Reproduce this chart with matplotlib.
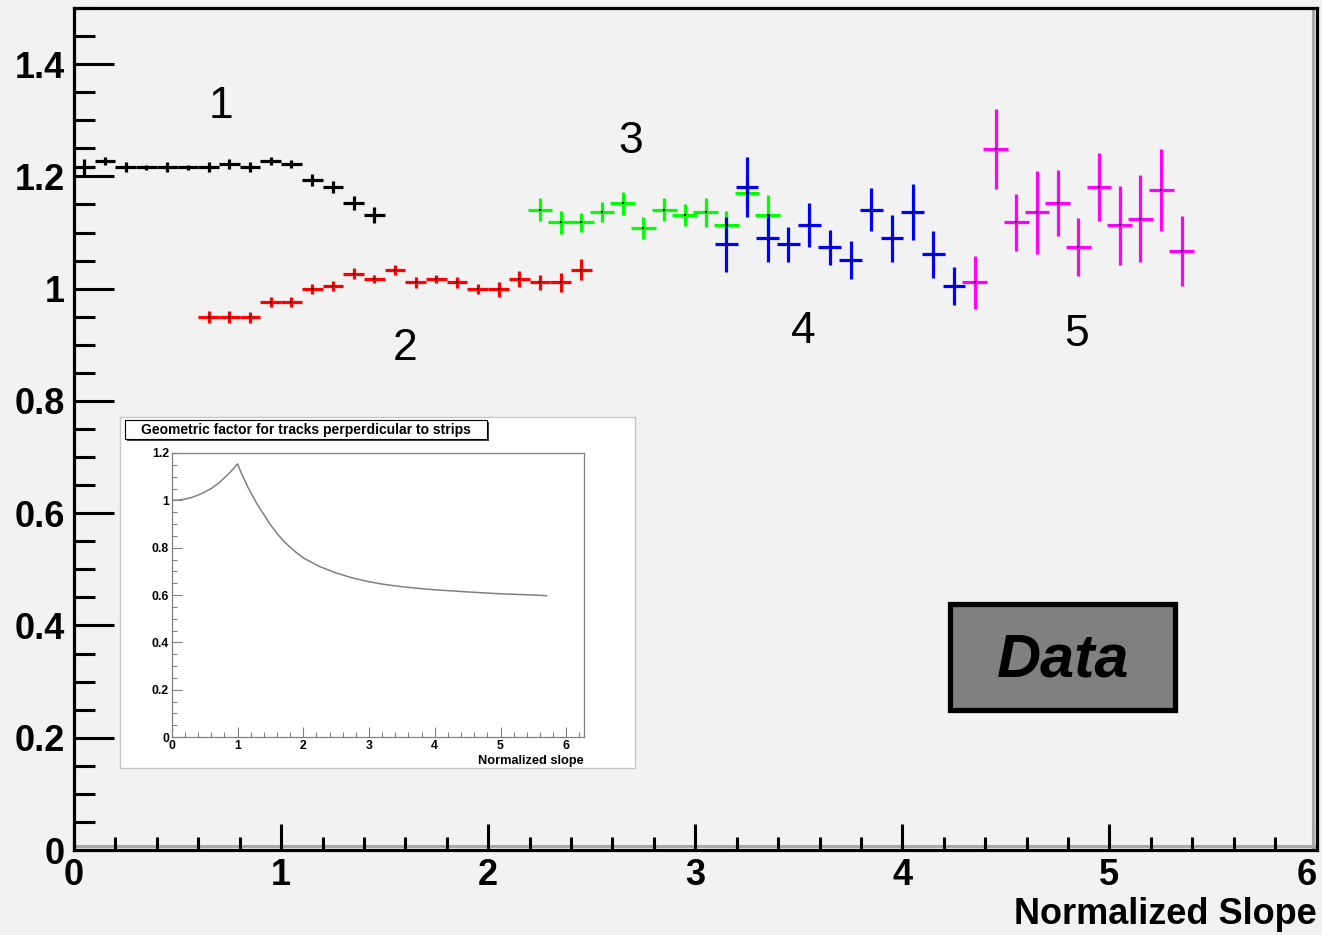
import numpy as np
import matplotlib.pyplot as plt
from matplotlib.patches import Rectangle
from matplotlib.lines import Line2D

plt.rcParams['font.family'] = ['Liberation Sans', 'DejaVu Sans']

# series 1 (black)
x1 = [0.05, 0.15, 0.25, 0.35, 0.45, 0.55, 0.65, 0.75, 0.85, 0.95, 1.05, 1.15, 1.25, 1.35, 1.45]
y1 = [1.216, 1.228, 1.216, 1.216, 1.216, 1.216, 1.216, 1.222, 1.216, 1.228, 1.222, 1.194, 1.181, 1.153, 1.131]
e1 = [0.015, 0.007, 0.009, 0.005, 0.009, 0.005, 0.009, 0.009, 0.009, 0.007, 0.007, 0.011, 0.011, 0.012, 0.014]
# series 2 (red)
x2 = [0.65, 0.75, 0.85, 0.95, 1.05, 1.15, 1.25, 1.35, 1.45, 1.55, 1.65, 1.75, 1.85, 1.95, 2.05, 2.15, 2.25, 2.35, 2.45]
y2 = [0.949, 0.949, 0.949, 0.977, 0.977, 0.999, 1.005, 1.027, 1.017, 1.034, 1.011, 1.017, 1.011, 0.999, 0.999, 1.017, 1.011, 1.011, 1.034]
e2 = [0.011, 0.011, 0.0095, 0.009, 0.009, 0.009, 0.009, 0.009, 0.007, 0.009, 0.009, 0.007, 0.009, 0.009, 0.013, 0.014, 0.013, 0.017, 0.019]
# series 3 (green)
x3 = [2.25, 2.35, 2.45, 2.55, 2.65, 2.75, 2.85, 2.95, 3.05, 3.15, 3.25, 3.35]
y3 = [1.141, 1.118, 1.118, 1.136, 1.152, 1.108, 1.141, 1.131, 1.136, 1.113, 1.170, 1.131]
e3 = [0.021, 0.020, 0.017, 0.018, 0.020, 0.020, 0.020, 0.019, 0.026, 0.026, 0.030, 0.036]
# series 4 (blue)
x4 = [3.15, 3.25, 3.35, 3.45, 3.55, 3.65, 3.75, 3.85, 3.95, 4.05, 4.15, 4.25]
y4 = [1.079, 1.181, 1.090, 1.079, 1.113, 1.074, 1.051, 1.141, 1.090, 1.136, 1.061, 1.005]
e4 = [0.049, 0.053, 0.043, 0.031, 0.039, 0.031, 0.034, 0.039, 0.042, 0.050, 0.042, 0.034]
# series 5 (magenta)
x5 = [4.35, 4.45, 4.55, 4.65, 4.75, 4.85, 4.95, 5.05, 5.15, 5.25, 5.35]
y5 = [1.011, 1.249, 1.118, 1.136, 1.152, 1.074, 1.181, 1.113, 1.125, 1.175, 1.067]
e5 = [0.048, 0.071, 0.051, 0.074, 0.059, 0.052, 0.060, 0.070, 0.077, 0.073, 0.062]

series = [(x1, y1, e1, 0.05, 'black'), (x2, y2, e2, 0.05, '#ff0000'),
          (x3, y3, e3, 0.06, '#00ff00'), (x4, y4, e4, 0.055, '#0000ff'),
          (x5, y5, e5, 0.06, '#ff00ff')]

# region labels
lab_text = ['1', '2', '3', '4', '5']
lab_x = [0.71, 1.60, 2.69, 3.52, 4.84]
lab_y = [1.324, 0.894, 1.262, 0.924, 0.919]

# inset curve: geometric factor
geo_x = [0, 0.1, 0.2, 0.3, 0.4, 0.5, 0.6, 0.7, 0.8, 0.9, 1.0, 1.05, 1.1, 1.15, 1.2, 1.3, 1.4, 1.5,
         1.6, 1.7, 1.8, 1.9, 2.0, 2.25, 2.5, 2.75, 3.0, 3.25, 3.5, 3.75, 4.0, 4.5, 5.0, 5.5, 5.7]
geo_y = [1.0, 1.001, 1.005, 1.012, 1.022, 1.035, 1.05, 1.07, 1.095, 1.122, 1.154, 1.12, 1.09, 1.06,
         1.033, 0.983, 0.94, 0.897, 0.86, 0.828, 0.802, 0.778, 0.757, 0.72, 0.693, 0.672, 0.656,
         0.644, 0.635, 0.628, 0.622, 0.613, 0.605, 0.6, 0.597]

bg = '#f2f2f2'
fig = plt.figure(figsize=(13.22, 9.35), dpi=100, facecolor=bg)
ax = fig.add_axes([74/1322, 85/935, 1242.5/1322, 842/935], facecolor=bg)

for xs, ys, es, xe, c in series:
    ax.errorbar(xs, ys, yerr=es, xerr=xe, fmt='s', color=c, ms=2.0, mfc='black', mew=0,
                elinewidth=2.3, capsize=0, zorder=3)

for t, tx, ty in zip(lab_text, lab_x, lab_y):
    ax.text(tx, ty, t, fontsize=32, ha='center', va='center')

ax.set_xlim(0, 6)
ax.set_ylim(0, 1.5)
ax.set_xticks(np.arange(0, 7, 1))
ax.set_xticklabels(['0', '1', '2', '3', '4', '5', '6'])
ax.set_xticks(np.arange(0, 6.01, 0.2), minor=True)
ax.set_yticks(np.arange(0, 1.41, 0.2))
ax.set_yticklabels(['0', '0.2', '0.4', '0.6', '0.8', '1', '1.2', '1.4'])
ax.set_yticks(np.arange(0, 1.51, 0.05), minor=True)
ax.tick_params(axis='x', which='major', direction='in', length=19, width=2.2, pad=6, labelsize=26)
ax.tick_params(axis='x', which='minor', direction='in', length=9.5, width=2.2)
ax.tick_params(axis='y', which='major', direction='in', length=29, width=2.2, pad=6.5, labelsize=26)
ax.tick_params(axis='y', which='minor', direction='in', length=15, width=2.2)
for lbl in ax.get_xticklabels() + ax.get_yticklabels():
    lbl.set_fontweight('bold')
ax.get_xticklabels()[-1].set_horizontalalignment('right')
for s in ax.spines.values():
    s.set_linewidth(2.3)
    s.set_color('black')

# gray inner shadow along right and bottom frame
ax.add_line(Line2D([0, 1], [0.005, 0.005], transform=ax.transAxes, color='#a8a8a8', lw=2.2, zorder=1))
ax.add_line(Line2D([0.997, 0.997], [0, 1], transform=ax.transAxes, color='#a8a8a8', lw=2.2, zorder=1))

ax.set_xlabel('Normalized Slope', fontsize=26, fontweight='bold', loc='right')
ax.xaxis.set_label_coords(1.0, -0.077)
ax.xaxis.label.set_va('center')

# Data box
ax.add_patch(Rectangle((0.705, 0.166), 0.181, 0.126, transform=ax.transAxes,
                       facecolor='#808080', edgecolor='black', lw=3.8, zorder=4))
ax.text(0.796, 0.224, 'Data', transform=ax.transAxes, fontsize=44, fontweight='bold',
        fontstyle='italic', ha='center', va='center', zorder=5)

# inset panel
panel = fig.add_axes([120/1322, 167/935, 515/1322, 351/935], facecolor='white')
panel.set_xticks([])
panel.set_yticks([])
panel.set_xlim(0, 1)
panel.set_ylim(0, 1)
for s in panel.spines.values():
    s.set_color('#c8c8c8')
    s.set_linewidth(1)
panel.add_patch(Rectangle((0.0137, 0.931), 0.7029, 0.054, facecolor='#404040', edgecolor='none'))
panel.add_patch(Rectangle((0.0097, 0.937), 0.7029, 0.054, facecolor='white', edgecolor='black', lw=0.8))
panel.text(0.361, 0.964, 'Geometric factor for tracks perperdicular to strips', fontsize=10,
           fontweight='bold', ha='center', va='center')

ins = fig.add_axes([171.8/1322, 198/935, 412.2/1322, 284/935], facecolor='white')
ins.plot(geo_x, geo_y, color='#808080', lw=1.1)
ins.set_xlim(0, 6.27)
ins.set_ylim(0, 1.2)
ins.set_xticks(np.arange(0, 7, 1))
ins.set_xticklabels(['0', '1', '2', '3', '4', '5', '6'])
ins.set_xticks(np.arange(0, 6.21, 0.2), minor=True)
ins.set_yticks(np.arange(0, 1.21, 0.2))
ins.set_yticklabels(['0', '0.2', '0.4', '0.6', '0.8', '1', '1.2'])
ins.set_yticks(np.arange(0, 1.21, 0.05), minor=True)
ins.tick_params(which='major', direction='in', length=7, width=0.8, color='#808080', labelsize=8.8, pad=2)
ins.tick_params(which='minor', direction='in', length=3.5, width=0.8, color='#808080')
for lbl in ins.get_xticklabels() + ins.get_yticklabels():
    lbl.set_fontweight('bold')
for s in ins.spines.values():
    s.set_color('#808080')
    s.set_linewidth(0.9)
ins.set_xlabel('Normalized slope', fontsize=9.2, fontweight='bold', loc='right')
ins.xaxis.set_label_coords(1.0, -0.085)
ins.xaxis.label.set_va('center')

fig.savefig('out.png', dpi=100, facecolor=bg)
